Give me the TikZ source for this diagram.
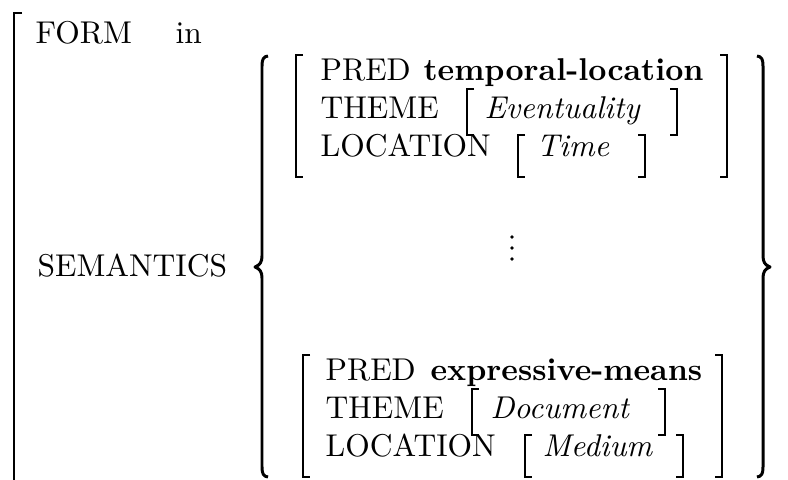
\documentclass[tikz,border=0pt]{standalone}
\begin{document}
\tikzset{
  lbl/.style={anchor=base west, inner sep=0pt, font=\fontsize{10}{12}\selectfont},
  brk/.style={line width=0.75pt},
  brc/.style={line width=0.95pt, line join=round},
  dotmark/.style={fill=black, draw=none},
}
\begin{tikzpicture}[x=0.3175pt,y=-0.3175pt]
\useasboundingbox (0,0) rectangle (788,480);
% outer bracket
\draw[brk] (22,13) -- (14,13) -- (14,482);
\node[lbl] (form) at (35,44) {FORM};
\node[lbl] (in) at (175,44) {in};
\node[lbl] (sem) at (37,277) {SEMANTICS};
% braces
\draw[brc] (268,56) .. controls (263.5,56.5) and (262,59) .. (262,66) -- (262,256)
  .. controls (262,262) and (260,265) .. (255,267)
  .. controls (260,269) and (262,272) .. (262,278) -- (262,467)
  .. controls (262,474) and (263.5,476.5) .. (268,477);
\draw[brc] (757,56) .. controls (761.5,56.5) and (763,59) .. (763,66) -- (763,256)
  .. controls (763,262) and (765,265) .. (770,267)
  .. controls (765,269) and (763,272) .. (763,278) -- (763,467)
  .. controls (763,474) and (761.5,476.5) .. (757,477);
% top AVM
\draw[brk] (303,55) -- (296,55) -- (296,177) -- (303,177);
\draw[brk] (720,55) -- (727,55) -- (727,177) -- (720,177);
\node[lbl] (pred1) at (320,81) {PRED};
\node[lbl] (val1) at (423,81) {\bfseries temporal-location};
\node[lbl] (theme1) at (320,119) {THEME};
\draw[brk] (474,89) -- (467,89) -- (467,135) -- (474,135);
\node[lbl] (ev) at (484,119) {\itshape Eventuality};
\draw[brk] (670,89) -- (677,89) -- (677,135) -- (670,135);
\node[lbl] (loc1) at (320,157) {LOCATION};
\draw[brk] (525,135) -- (518,135) -- (518,177) -- (525,177);
\node[lbl] (time) at (536,157) {\itshape Time};
\draw[brk] (638,135) -- (645,135) -- (645,177) -- (638,177);
% vertical dots
\fill[dotmark] (512,237) circle (1.9);
\fill[dotmark] (512,248) circle (1.9);
\fill[dotmark] (512,259) circle (1.9);
% bottom AVM
\draw[brk] (310,355) -- (303,355) -- (303,477) -- (310,477);
\draw[brk] (715,355) -- (722,355) -- (722,477) -- (715,477);
\node[lbl] (pred2) at (325,381) {PRED};
\node[lbl] (val2) at (430,381) {\bfseries expressive-means};
\node[lbl] (theme2) at (325,419) {THEME};
\draw[brk] (479,389) -- (472,389) -- (472,435) -- (479,435);
\node[lbl] (doc) at (490,419) {\itshape Document};
\draw[brk] (658,389) -- (665,389) -- (665,435) -- (658,435);
\node[lbl] (loc2) at (325,457) {LOCATION};
\draw[brk] (532,435) -- (525,435) -- (525,477) -- (532,477);
\node[lbl] (med) at (542,457) {\itshape Medium};
\draw[brk] (676,435) -- (683,435) -- (683,477) -- (676,477);
\end{tikzpicture}
\end{document}
